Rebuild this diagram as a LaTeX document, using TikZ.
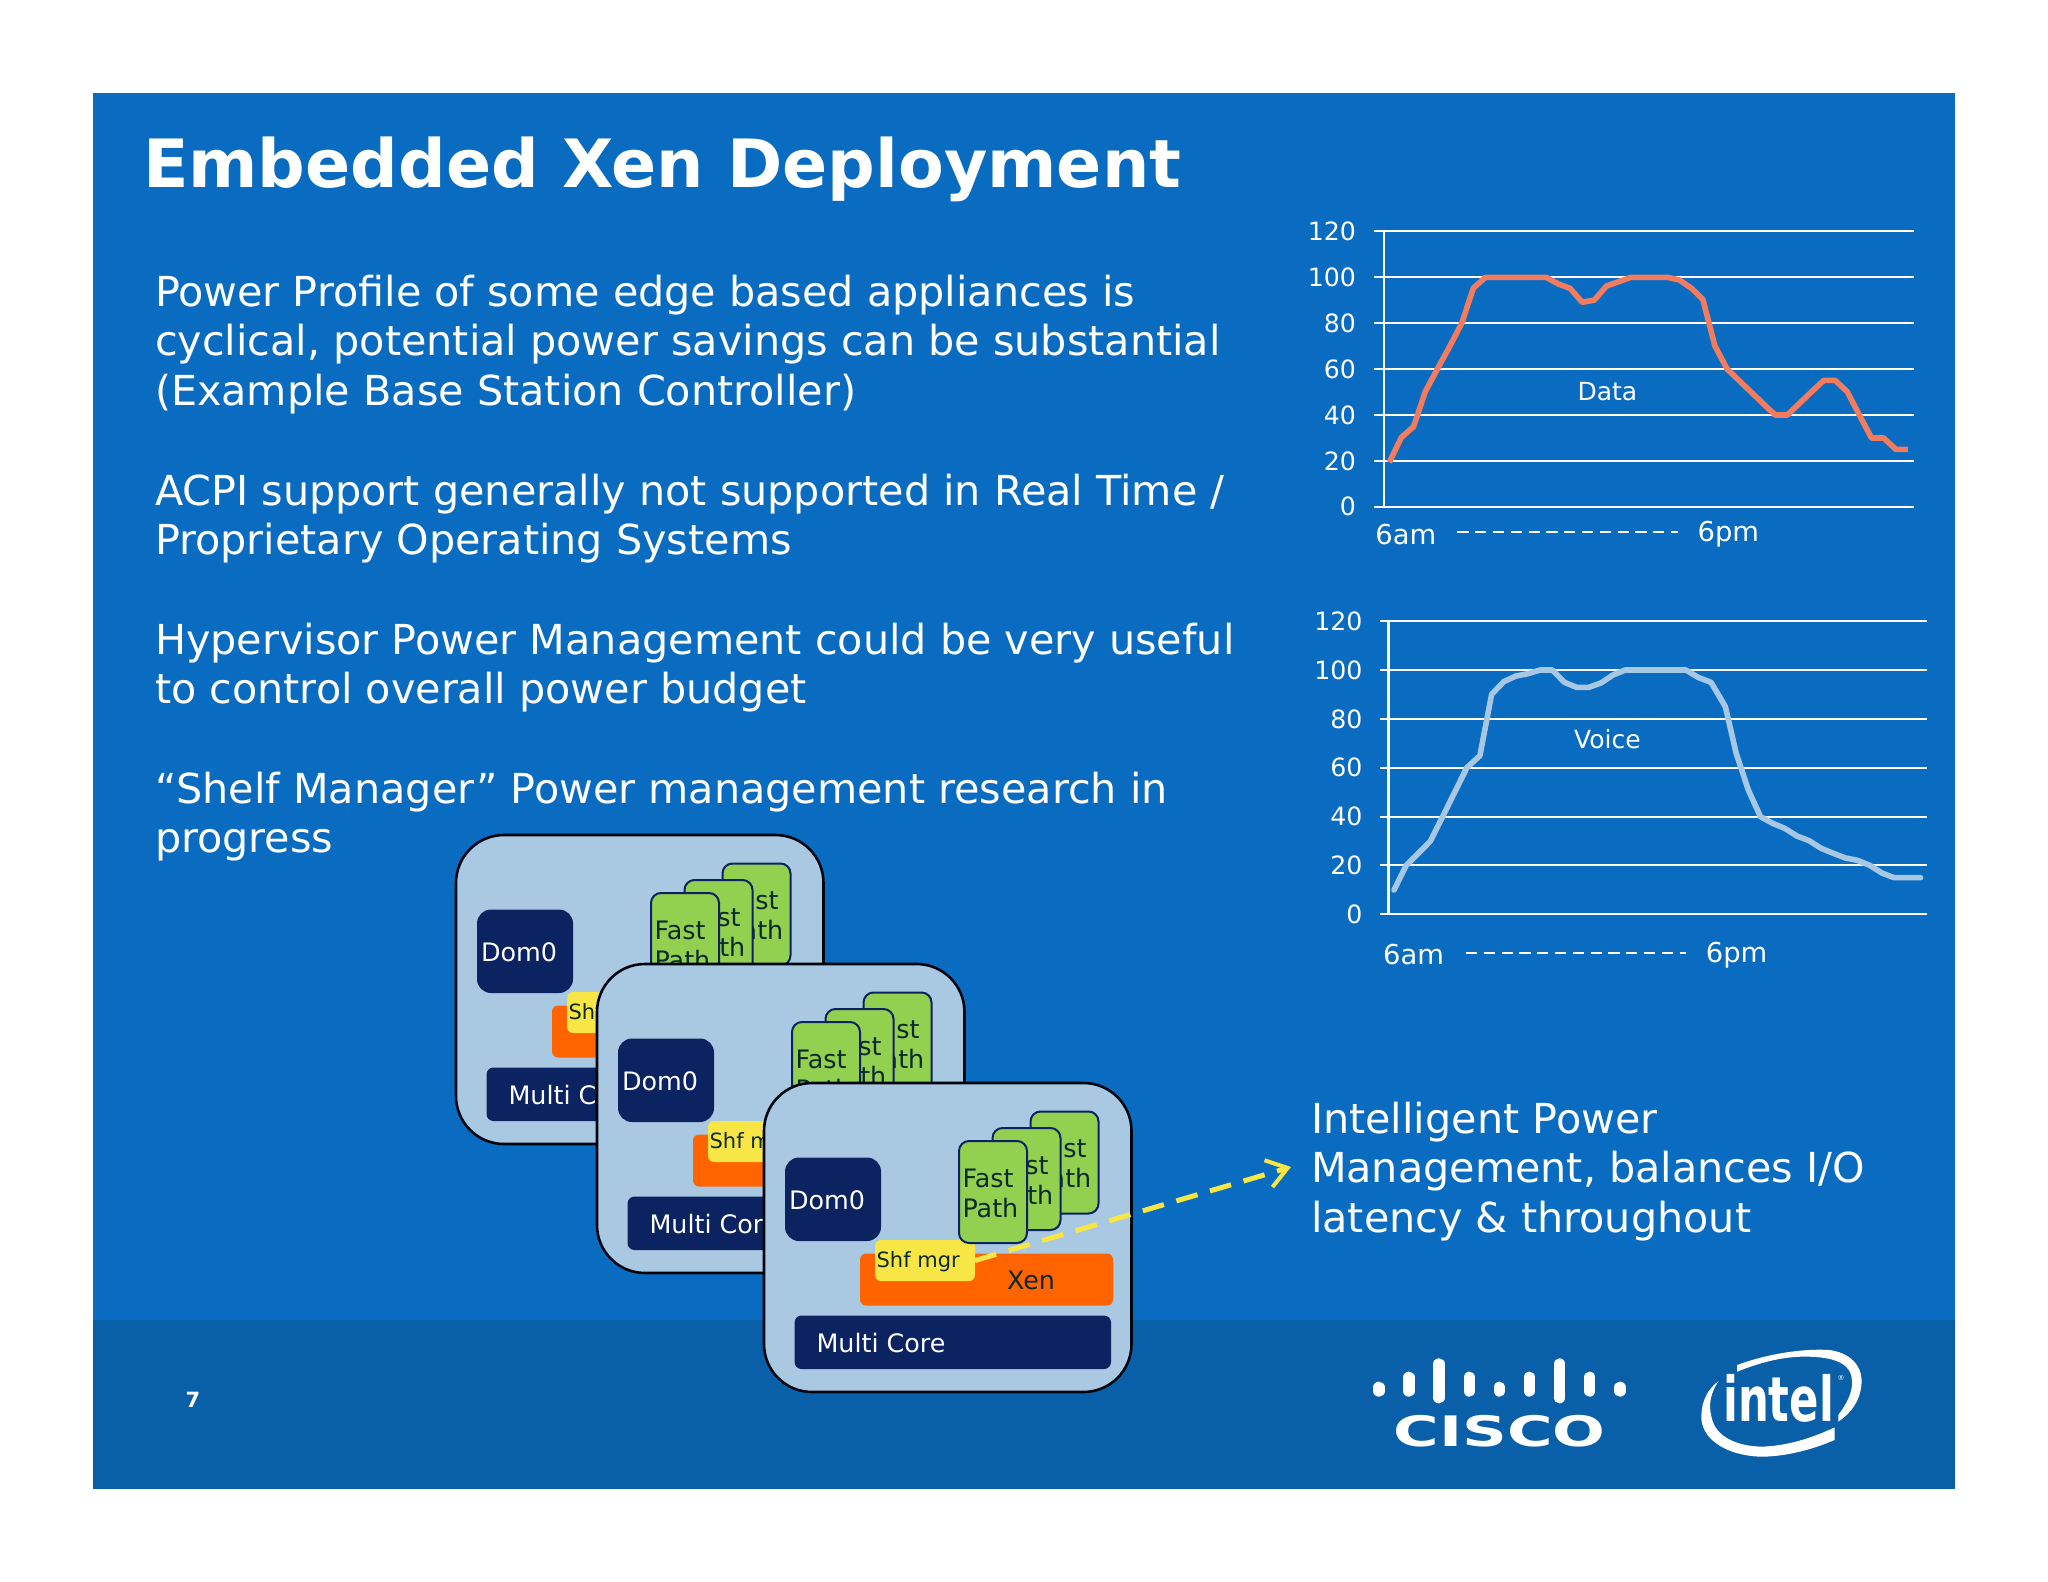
\documentclass[tikz,border=0pt]{standalone}
\usepackage{fontspec}
\setmainfont{DejaVu Sans}
\usetikzlibrary{arrows.meta}
\definecolor{slidebg}{HTML}{0A6CC1}
\definecolor{footbg}{HTML}{0A5FA9}
\definecolor{panelbg}{HTML}{A9C9E3}
\definecolor{navy}{HTML}{0B2360}
\definecolor{cardgreen}{HTML}{92D050}
\definecolor{xenorange}{HTML}{FF6400}
\definecolor{shfyellow}{HTML}{F8E546}
\definecolor{dataline}{HTML}{F47C5E}
\definecolor{voiceline}{HTML}{A6C8E4}
\definecolor{darktext}{HTML}{0C2A2A}
\newcommand{\fs}[1]{\fontsize{#1}{#1}\selectfont}
\tikzset{
  txt/.style={inner sep=0pt,outer sep=0pt},
  bodytext/.style={txt,anchor=north west,align=left,text=white,font=\fontsize{20.65}{24.8}\selectfont},
  ticklabel/.style={txt,anchor=east,text=white,font=\fs{12.6}},
  axislabel/.style={txt,anchor=west,text=white,font=\fs{13.7}},
  gridline/.style={draw=white,line width=1.1pt},
  boxbase/.style={rectangle,inner sep=0pt,outer sep=0pt},
  panelbox/.style={boxbase,fill=panelbg,draw=black!85!navy,line width=1.3pt,rounded corners=24pt,minimum width=183.75pt,minimum height=154.5pt},
  navybox/.style={boxbase,fill=navy,rounded corners=#1},
  orangebox/.style={boxbase,fill=xenorange,rounded corners=3pt,minimum width=126.5pt,minimum height=26pt},
  yellowbox/.style={boxbase,fill=shfyellow,rounded corners=3pt,minimum width=50pt,minimum height=20.5pt},
  cardbox/.style={boxbase,fill=cardgreen,draw=navy,line width=1pt,rounded corners=5pt,minimum width=34pt,minimum height=51pt},
  lighttext/.style={txt,text=white,font=\fs{12.7}},
  darklabel/.style={txt,text=darktext,font=\fs{12.7}},
  panel/.pic={
    \node[panelbox] (-panel) at (183.75,154.5) {};
    \node[orangebox] (-xen) at (222.5,196.5) {};
    \node[yellowbox] (-shf) at (161,177.5) {};
    \node[darklabel,font=\fs{10.5},anchor=west] (-shftext) at (112.6,178.6) {Shf mgr};
    \node[darklabel] (-xentext) at (267,197.7) {Xen};
    \node[cardbox] (-card3) at (300.5,79.5) {};
    \node[darklabel,anchor=base west] (-card3a) at (271.5,74) {Fast};
    \node[darklabel,anchor=base west] (-card3b) at (271.5,104.6) {Path};
    \node[cardbox] (-card2) at (262.5,96) {};
    \node[darklabel,anchor=base west] (-card2a) at (233.5,91) {Fast};
    \node[darklabel,anchor=base west] (-card2b) at (233.5,121.6) {Path};
    \node[cardbox] (-card1) at (229,109) {};
    \node[darklabel,anchor=base west] (-card1a) at (198.5,104) {Fast};
    \node[darklabel,anchor=base west] (-card1b) at (198.5,134.6) {Path};
    \node[navybox=7pt,minimum width=48pt,minimum height=41.75pt] (-dom) at (69,116.25) {};
    \node[lighttext] (-domtext) at (63,117.6) {Dom0};
    \node[navybox=3.5pt,minimum width=158.25pt,minimum height=26.75pt] (-multi) at (188.75,259.25) {};
    \node[lighttext,anchor=west] (-multitext) at (52.5,259.7) {Multi Core};
  }
}
\begin{document}
\begin{tikzpicture}[x=0.5pt,y=-0.5pt]
\useasboundingbox (0,0) rectangle (2048,1582);
\fill[white] (0,0) rectangle (2048,1582);
\fill[slidebg] (93,93) rectangle (1955,1320);
\fill[footbg] (93,1320) rectangle (1955,1489);

\node[txt,anchor=west,text=white,font=\bfseries\fs{33.3}] (title) at (143,169) {Embedded Xen Deployment};
\node[bodytext] (p1) at (155,275) {Power Profile of some edge based appliances is\\cyclical, potential power savings can be substantial\\(Example Base Station Controller)};
\node[bodytext] (p2) at (155,474) {ACPI support generally not supported in Real Time /\\Proprietary Operating Systems};
\node[bodytext] (p3) at (155,623) {Hypervisor Power Management could be very useful\\to control overall power budget};
\node[bodytext] (p4) at (155,772) {“Shelf Manager” Power management research in\\progress};
\node[bodytext] (p5) at (1311,1102) {Intelligent Power\\Management, balances I/O\\latency \& throughout};
\node[txt,text=white,font=\bfseries\fs{10.5}] (pageno) at (193,1400) {7};

% data chart
\begin{scope}[shift={(1270,200)},x=0.21683pt,y=-0.16667pt]
  \foreach \yy/\lab in {93/120,231/100,369/80,507/60,645/40,783/20,920/0}{
    \draw[gridline] (240,\yy) -- (1484,\yy);
    \node[ticklabel] (dtick\lab) at (198,\yy) {\lab};
  }
  \draw[gridline] (263,93) -- (263,920);
  \draw[dataline,line width=2.8pt,line join=round] (275,787)--(303,712)--(331,680)--(358,575)--(386,507)--(414,440)--(442,370)--(469,264)--(497,232)--(525,232)--(553,232)--(581,232)--(609,232)--(637,232)--(665,252)--(692,265)--(720,307)--(748,300)--(776,258)--(804,245)--(832,232)--(860,232)--(888,232)--(916,232)--(944,240)--(972,265)--(998,298)--(1026,438)--(1054,507)--(1082,542)--(1110,577)--(1138,612)--(1165,645)--(1193,645)--(1221,610)--(1249,575)--(1277,541)--(1303,541)--(1331,575)--(1359,645)--(1387,714)--(1415,714)--(1443,748)--(1471,748);
  \node[txt,text=white,font=\fs{12.5}] (datalabel) at (778,575) {Data};
  \node[axislabel] (d6am) at (243,1003) {6am};
  \node[axislabel] (d6pm) at (986,1003) {6pm};
  \draw[draw=white,line width=1.1pt,dash pattern=on 5.6pt off 3.3pt] (432,995) coordinate (dda) -- (940,995) coordinate (ddb);
\end{scope}

% voice chart
\begin{scope}[shift={(1270,590)},x=0.21683pt,y=-0.16667pt]
  \foreach \yy/\lab in {93/120,240/100,387/80,533/60,680/40,826/20,973/0}{
    \draw[gridline] (254,\yy) -- (1514,\yy);
    \node[ticklabel] (vtick\lab) at (213,\yy) {\lab};
  }
  \draw[gridline] (273,93) -- (273,973);
  \draw[voiceline,line width=2.8pt,line join=round,line cap=round] (286,900)--(314,826)--(342,790)--(370,753)--(398,680)--(426,606)--(454,533)--(484,497)--(511,313)--(539,275)--(567,258)--(595,251)--(623,240)--(651,240)--(679,277)--(707,292)--(735,292)--(763,279)--(791,255)--(819,240)--(847,240)--(875,240)--(903,240)--(931,240)--(959,240)--(987,262)--(1017,277)--(1050,350)--(1075,490)--(1103,600)--(1131,680)--(1159,700)--(1187,715)--(1215,738)--(1243,752)--(1271,775)--(1299,790)--(1327,804)--(1355,811)--(1383,826)--(1411,849)--(1439,863)--(1467,863)--(1500,863);
  \node[txt,text=white,font=\fs{12.5}] (voicelabel) at (778,448) {Voice};
  \node[axislabel] (v6am) at (261,1095) {6am};
  \node[axislabel] (v6pm) at (1005,1095) {6pm};
  \draw[draw=white,line width=1.1pt,dash pattern=on 5.6pt off 3.3pt] (452,1090) coordinate (vda) -- (960,1090) coordinate (vdb);
\end{scope}

% logos
\begin{scope}[shift={(1340,1320)},x=0.17857pt,y=-0.16667pt]
  \foreach \xx/\ya/\yb in {109/202/213,193/172/213,277/132/233,362/172/213,446/202/213,530/172/213,615/132/233,699/172/213,784/202/213}{
    \draw[white,line width=5.7pt,line cap=round] (\xx,\ya) -- (\xx,\yb);
  }
  \node[txt,text=white,font=\bfseries\fs{21}] (cisco) at (447,334) {\scalebox{1.48}[1]{CISCO}};
  \fill[white] (1112,135) .. controls (1200,100) and (1300,85) .. (1370,90) .. controls (1440,100) and (1465,150) .. (1460,195) .. controls (1455,245) and (1430,280) .. (1395,305) -- (1395,285) .. controls (1420,250) and (1440,210) .. (1432,170) .. controls (1425,125) and (1370,108) .. (1290,110) .. controls (1230,112) and (1170,130) .. (1112,155) -- cycle;
  \fill[white] (1060,183) .. controls (1020,215) and (1010,260) .. (1012,300) .. controls (1020,370) and (1100,410) .. (1185,410) .. controls (1260,408) and (1330,385) .. (1385,360) -- (1385,322) .. controls (1320,355) and (1250,378) .. (1180,380) .. controls (1110,378) and (1050,350) .. (1040,290) .. controls (1030,250) and (1040,215) .. (1060,183) -- cycle;
  \node[txt,text=white,font=\bfseries\fs{31}] (intel) at (1228,236) {\scalebox{0.7}[1]{intel}};
  \node[txt,text=white,font=\fs{3.5}] (intelr) at (1403,175) {®};
\end{scope}

% stacked panels
\pic (back) at (456,835) {panel};
\pic (mid) at (597,964) {panel};
\pic (front) at (764,1083) {panel};

\coordinate (arrowend) at (1291,1167);
\draw[shfyellow,line width=2.5pt,dash pattern=on 11pt off 6.5pt,-{Straight Barb[length=10pt,width=14pt,line width=2pt]}] (front-shf.east) -- (arrowend);
\end{tikzpicture}
\end{document}
